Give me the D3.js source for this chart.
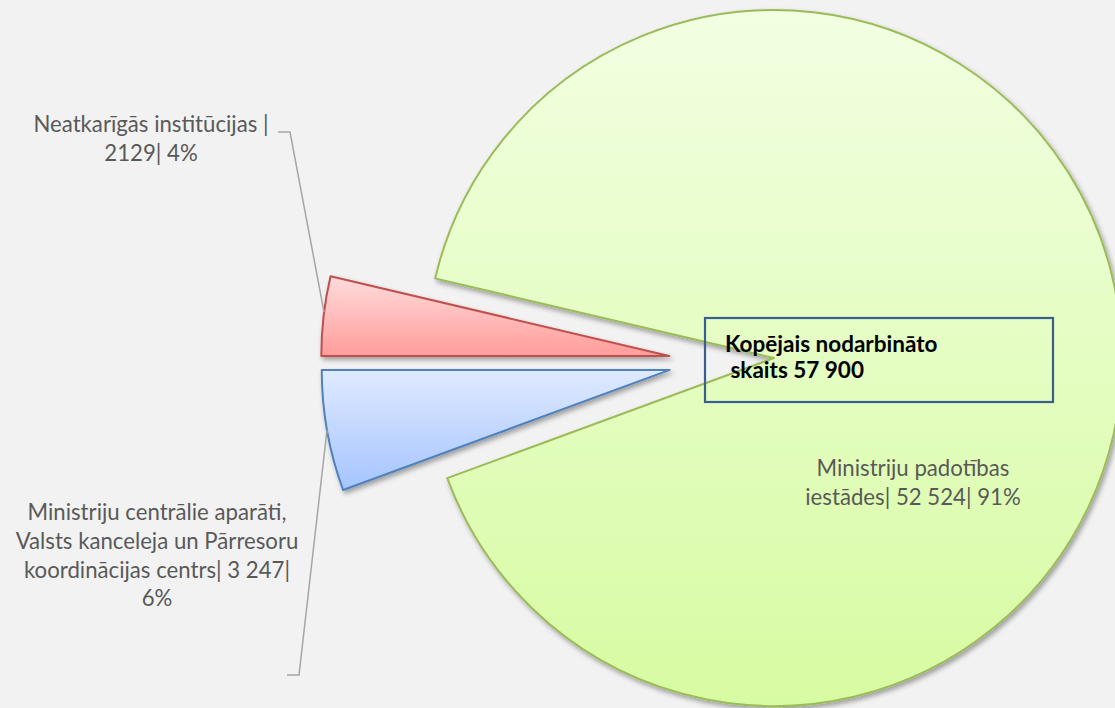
<!DOCTYPE html>
<html>
<head>
<meta charset="utf-8">
<script src="https://cdn.jsdelivr.net/npm/d3@7"></script>
<style>
  body { margin: 0; background: #f2f2f2; }
  svg { display: block; }
  .lbl { font-family: Lato, "Open Sans", sans-serif; fill: #595959; font-size: 22.2px; }
  .leader { fill: none; stroke: #a6a6a6; stroke-width: 1.5; }
  .total { font-family: Lato, "Open Sans", sans-serif; font-weight: bold; font-size: 22.5px; fill: #000; }
</style>
</head>
<body>
<svg id="chart" width="1115" height="708"></svg>
<script>
// slice data, in drawing order (clockwise from 9 o'clock)
var names = ["Neatkarīgās institūcijas", "Ministriju padotības iestādes",
             "Ministriju centrālie aparāti, Valsts kanceleja un Pārresoru koordinācijas centrs"];
var values = [2129, 52524, 3247];
var labelLines = [
    ["Neatkarīgās institūcijas |", "2129| 4%"],
    ["Ministriju padotības", "iestādes| 52 524| 91%"],
    ["Ministriju centrālie aparāti,", "Valsts kanceleja un Pārresoru", "koordinācijas centrs| 3 247|", "6%"]
];
var totalLines = ["Kopējais nodarbināto", " skaits 57 900"];

// styling per slice
var fillTop = ["#ffdcdc", "#f2ffe2", "#dfeaff"];
var fillBottom = ["#ff9c9a", "#d7fba2", "#a5c4ff"];
var strokes = ["#c0504d", "#9bbb59", "#4f81bd"];
var explode = [48, 57, 48];

var svg = d3.select("#chart");
var W = 1115, H = 708;
svg.append("rect").attr("width", W).attr("height", H).attr("fill", "#f2f2f2");

var defs = svg.append("defs");
var shadow = defs.append("filter").attr("id", "shadow")
    .attr("x", "-10%").attr("y", "-10%").attr("width", "130%").attr("height", "130%");
shadow.append("feDropShadow")
    .attr("dx", 2).attr("dy", 3).attr("stdDeviation", 2.5)
    .attr("flood-color", "#000").attr("flood-opacity", 0.35);

values.forEach(function(v, i) {
    var g = defs.append("linearGradient").attr("id", "grad" + i)
        .attr("x1", 0).attr("y1", 0).attr("x2", 0).attr("y2", 1);
    g.append("stop").attr("offset", "0%").attr("stop-color", fillTop[i]);
    g.append("stop").attr("offset", "100%").attr("stop-color", fillBottom[i]);
});

var cx = 717, cy = 361.5, radius = 348;

var pie = d3.pie().sort(null)
    .startAngle(Math.PI * 1.5)
    .endAngle(Math.PI * 3.5);
var arcs = pie(values);
var arc = d3.arc().innerRadius(0).outerRadius(radius);

var g = svg.append("g").attr("transform", "translate(" + cx + "," + cy + ")");

g.selectAll(".slice")
  .data(arcs)
  .enter()
  .append("path")
  .attr("class", "slice")
  .attr("d", arc)
  .attr("transform", function(d, i) {
      var mid = (d.startAngle + d.endAngle) / 2;
      return "translate(" + (Math.sin(mid) * explode[i]) + "," + (-Math.cos(mid) * explode[i]) + ")";
  })
  .attr("fill", function(d, i) { return "url(#grad" + i + ")"; })
  .attr("stroke", function(d, i) { return strokes[i]; })
  .attr("stroke-width", 2)
  .attr("stroke-linejoin", "round")
  .attr("filter", "url(#shadow)");

// leader lines (red and blue slices)
var leaders = [
    [[278, 132], [290, 132], [324, 312]],
    [[327, 430], [299, 675], [287, 675]]
];
svg.selectAll(".leader")
  .data(leaders)
  .enter()
  .append("path")
  .attr("class", "leader")
  .attr("d", d3.line());

// data labels
var labelPos = [[151, 132], [913, 476], [157, 520]];
var lineH = 28.8;
labelLines.forEach(function(lines, i) {
    var t = svg.append("text").attr("class", "lbl")
        .attr("text-anchor", "middle")
        .attr("transform", "translate(" + labelPos[i][0] + "," + labelPos[i][1] + ")");
    t.selectAll("tspan").data(lines).enter().append("tspan")
      .attr("x", 0)
      .attr("y", function(d, j) { return j * lineH; })
      .text(function(d) { return d; });
});

// total box
svg.append("rect")
   .attr("x", 705).attr("y", 318).attr("width", 348).attr("height", 84)
   .attr("fill", "none").attr("stroke", "#3a5f8f").attr("stroke-width", 2.2);
var tt = svg.append("text").attr("class", "total").attr("xml:space", "preserve");
tt.selectAll("tspan").data(totalLines).enter().append("tspan")
  .attr("x", 725)
  .attr("y", function(d, j) { return 352 + j * 26; })
  .style("white-space", "pre")
  .text(function(d) { return d; });
</script>
</body>
</html>
